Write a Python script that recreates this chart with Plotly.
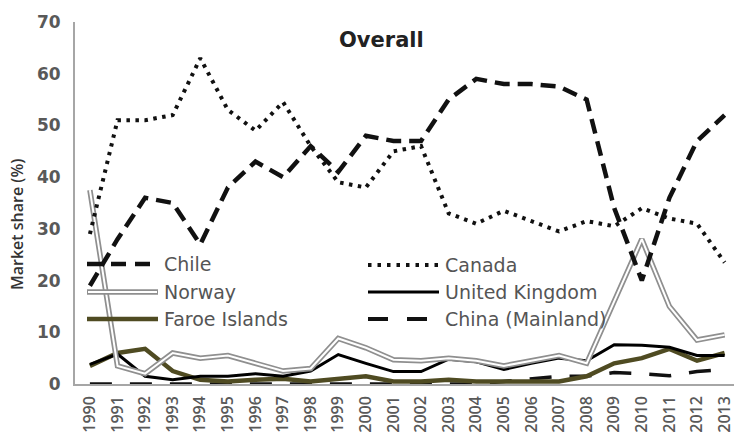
import plotly.graph_objects as go

years = list(range(1990, 2014))
chile = [19, 28, 36, 35, 27, 38, 43, 40, 46, 41, 48, 47, 47, 55, 59, 58, 58, 57.5, 55, 34, 20, 36, 47, 52]
canada = [29, 51, 51, 52, 63, 53, 49, 54.5, 46, 39, 38, 45, 46, 33, 31, 33.5, 31.5, 29.5, 31.5, 30.5, 34, 32, 31, 23.5]
norway = [37.5, 3.5, 2, 6, 5, 5.5, 4, 2.5, 3, 8.8, 7, 4.7, 4.5, 5, 4.5, 3.5, 4.5, 5.5, 4, 16, 28, 15, 8.5, 9.5]
uk = [3.8, 5.8, 1.5, 0.8, 1.5, 1.5, 2, 1.5, 2.5, 5.7, 4, 2.4, 2.4, 4.8, 4.3, 2.8, 4, 5, 4.5, 7.6, 7.5, 7.1, 5.5, 5.5]
faroe = [3.5, 6, 6.8, 2.5, 0.8, 0.5, 0.8, 1, 0.5, 1, 1.5, 0.5, 0.5, 0.8, 0.5, 0.5, 0.5, 0.5, 1.5, 4, 5, 6.8, 4.5, 6]
china = [0, 0, 0, 0, 0, 0, 0, 0, 0, 0, 0, 0, 0, 0, 0, 0.5, 1, 1.5, 1.5, 2.2, 2, 1.6, 2.4, 2.8]

legend_names = ["Chile", "Norway", "Faroe Islands", "Canada", "United Kingdom", "China (Mainland)"]

GRAY_NOR = "#8f8f8f"
OLIVE = "#4f4b22"
TXT = "#555555"
FONT = "DejaVu Sans"

fig = go.Figure()
fig.add_trace(go.Scatter(x=years, y=china, mode="lines", line=dict(color="#111111", width=3.5, dash="22px,18px"), showlegend=False))
fig.add_trace(go.Scatter(x=years, y=faroe, mode="lines", line=dict(color=OLIVE, width=4.5), showlegend=False))
fig.add_trace(go.Scatter(x=years, y=uk, mode="lines", line=dict(color="#000000", width=3), showlegend=False))
fig.add_trace(go.Scatter(x=years, y=norway, mode="lines", line=dict(color=GRAY_NOR, width=5.5), showlegend=False))
fig.add_trace(go.Scatter(x=years, y=norway, mode="lines", line=dict(color="#ffffff", width=2), showlegend=False))
fig.add_trace(go.Scatter(x=years, y=canada, mode="lines", line=dict(color="#111111", width=4, dash="3.5px,5.5px"), showlegend=False))
fig.add_trace(go.Scatter(x=years, y=chile, mode="lines", line=dict(color="#111111", width=4.5, dash="15px,8px"), showlegend=False))

# plot geometry in pixels
L, R, T, B = 75, 2, 22, 53
W, H = 736, 437
pw, ph = W - L - R, H - T - B

def px(x):
    return (x - L) / pw

def py(y):
    return (H - B - y) / ph

shapes = []
annotations = []
leg_pos = [(87, 264), (87, 292), (87, 319), (368, 265), (368, 292), (368, 319)]
leg_style = [
    dict(color="#111111", width=4.5, dash="15px,9px"),
    None,
    dict(color=OLIVE, width=4.5),
    dict(color="#111111", width=4, dash="3.5px,6px"),
    dict(color="#000000", width=3),
    dict(color="#111111", width=4, dash="20px,19px"),
]
for name, (x0, yy), st in zip(legend_names, leg_pos, leg_style):
    x1 = x0 + 71
    if st is None:
        shapes.append(dict(type="line", xref="paper", yref="paper", x0=px(x0), x1=px(x1), y0=py(yy), y1=py(yy),
                           line=dict(color=GRAY_NOR, width=5.5)))
        shapes.append(dict(type="line", xref="paper", yref="paper", x0=px(x0 + 1), x1=px(x1 - 1), y0=py(yy), y1=py(yy),
                           line=dict(color="#ffffff", width=2)))
    else:
        shapes.append(dict(type="line", xref="paper", yref="paper", x0=px(x0), x1=px(x1), y0=py(yy), y1=py(yy), line=st))
    annotations.append(dict(text=name, xref="paper", yref="paper", x=px(x1 + 4), y=py(yy), xanchor="left", yanchor="middle",
                            showarrow=False, font=dict(family=FONT, size=19, color=TXT)))

annotations.append(dict(text="<b>Overall</b>", xref="paper", yref="paper", x=px(381), y=py(40), xanchor="center",
                        yanchor="middle", showarrow=False, font=dict(family=FONT, size=21, color="#222222")))
annotations.append(dict(text="Market share (%)", xref="paper", yref="paper", x=px(17), y=py(225), xanchor="center",
                        yanchor="middle", textangle=-90, showarrow=False,
                        font=dict(family="Open Sans", size=16, color="#333333", weight=600)))

fig.update_layout(
    width=W, height=H,
    margin=dict(l=L, r=R, t=T, b=B),
    paper_bgcolor="white", plot_bgcolor="white",
    shapes=shapes, annotations=annotations,
    xaxis=dict(range=[1989.46, 2013.34], tickmode="array", tickvals=years, ticktext=[str(y) for y in years],
               tickangle=-90, showgrid=False, zeroline=False, showline=True, linecolor="#a6a6a6", linewidth=1.5,
               ticks="", ticklabelstandoff=4, tickfont=dict(family="Open Sans", size=16, color="#595959", weight=600)),
    yaxis=dict(range=[0, 70], tickvals=[0, 10, 20, 30, 40, 50, 60, 70], showgrid=False, zeroline=False,
               showline=True, linecolor="#a6a6a6", linewidth=2, ticks="", ticklabelstandoff=9,
               tickfont=dict(family=FONT, size=17, color="#595959", weight="bold")),
)

fig.write_html("out.html")
